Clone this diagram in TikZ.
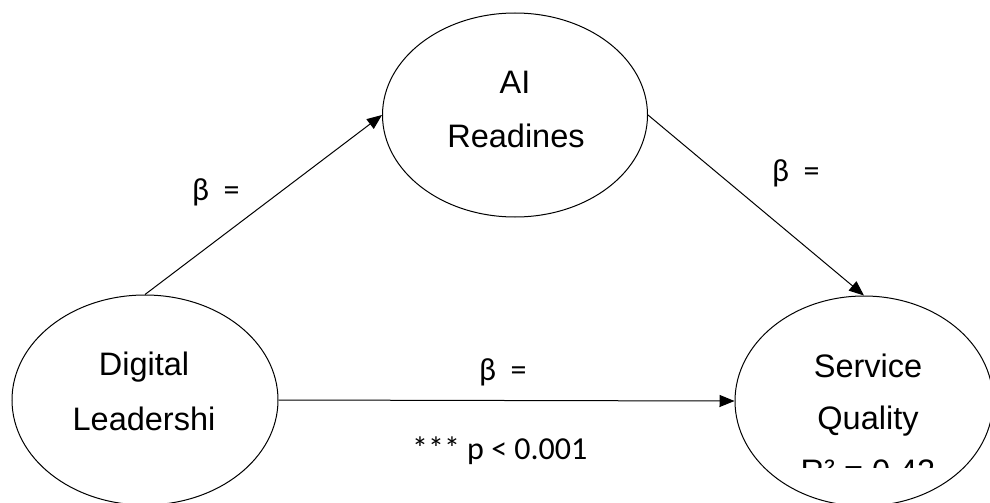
\documentclass[tikz,border=0pt]{standalone}
\usepackage{fontspec}
\setmainfont{Liberation Sans}
\newfontfamily\betafont{Carlito}
\usetikzlibrary{shapes.geometric,arrows.meta}
\tikzset{
  construct/.style={ellipse, draw=black, line width=1pt, inner sep=0pt},
  nodetext/.style={anchor=base, inner sep=0pt, font=\fontsize{32.5}{39}\selectfont},
  coef/.style={anchor=base west, inner sep=0pt, font=\betafont\fontsize{32}{38}\selectfont},
  path/.style={draw=black, line width=1pt, -{Triangle[length=15pt,width=12pt]}}
}
\begin{document}
\begin{tikzpicture}[x=1pt,y=-1pt]
\useasboundingbox (0,0) rectangle (990,503);
\clip (0,0) rectangle (990,503);
\fill[white] (0,0) rectangle (990,503);
% constructs
\node[construct, minimum width=266pt, minimum height=210pt] (dl) at (145,400) {};
\node[construct, minimum width=265pt, minimum height=204pt] (ai) at (515,115) {};
\node[construct, minimum width=258pt, minimum height=210pt] (sq) at (864,401) {};
% texts
\node[nodetext] (dl1) at (144,375) {Digital};
\node[nodetext] (dl2) at (144,430) {Leadershi};
\node[nodetext] (ai1) at (515,93) {AI};
\node[nodetext] (ai2) at (516,147) {Readines};
\node[nodetext] (sq1) at (868,377) {Service};
\node[nodetext] (sq2) at (868,429) {Quality};
\begin{scope}
\clip (700,300) rectangle (990,467);
\node[nodetext] (sq3) at (868,482) {R² = 0.42};
\end{scope}
% paths
\draw[path] (dl.north) -- (ai.west);
\draw[path] (ai.east) -- (sq.north);
\draw[path] (dl.east) -- (sq.west);
% coefficients
\node[coef] (b1) at (192,200) {β~~=};
\node[coef] (b2) at (772,181) {β~~=};
\node[coef] (b3) at (479,380) {β~~=};
\node[coef] (pv) at (412,459) {*** p < 0.001};
\end{tikzpicture}
\end{document}
